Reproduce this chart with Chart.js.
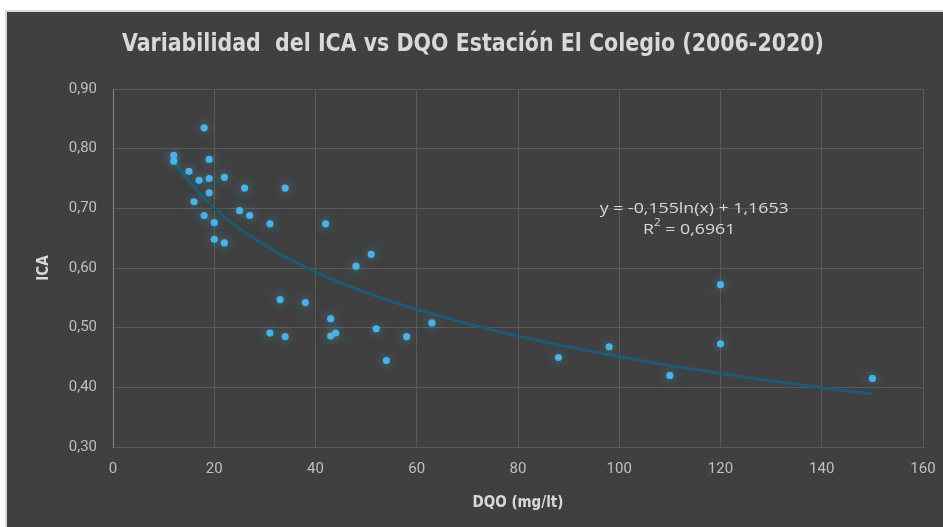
<!DOCTYPE html>
<html lang="es">
<head>
<meta charset="utf-8">
<title>Variabilidad del ICA vs DQO</title>
<script src="https://cdn.jsdelivr.net/npm/chart.js@4.4.1/dist/chart.umd.min.js"></script>
<style>
    html, body { margin: 0; padding: 0; background: #ffffff; }
    #frame {
        position: absolute;
        left: 5px; top: 10px;
        width: 936px; height: 515px;
        border-left: 2px solid #d9d9d9;
        border-top: 2px solid #d9d9d9;
        background: #404040;
    }
    #icaChart { display: block; }
</style>
</head>
<body>
<div id="frame"><canvas id="icaChart" width="936" height="515"></canvas></div>
<script>
// DQO (mg/lt) and ICA per sample, El Colegio station 2006-2020
const dqo = [12, 12, 15, 16, 17, 18, 18, 19, 19, 19, 20, 20, 22, 22, 25, 26, 27, 31, 31, 33,
             34, 34, 38, 42, 43, 43, 44, 48, 51, 52, 54, 58, 63, 88, 98, 110, 120, 120, 150];
const ica = [0.789, 0.779, 0.762, 0.711, 0.747, 0.835, 0.688, 0.782, 0.750, 0.726, 0.676, 0.648,
             0.752, 0.642, 0.696, 0.734, 0.688, 0.674, 0.491, 0.547, 0.734, 0.485, 0.542, 0.674,
             0.515, 0.486, 0.491, 0.603, 0.623, 0.498, 0.445, 0.485, 0.508, 0.450, 0.468, 0.420,
             0.572, 0.473, 0.415];

// logarithmic trend line: y = a*ln(x) + b
const trendA = -0.155;
const trendB = 1.1653;
const trendR2 = 0.6961;
const trendFrom = 12;
const trendTo = 150;

const xTicks = [0, 20, 40, 60, 80, 100, 120, 140, 160];
const yTicks = [0.30, 0.40, 0.50, 0.60, 0.70, 0.80, 0.90];

const chartTitle = 'Variabilidad  del ICA vs DQO Estación El Colegio (2006-2020)';

const points = dqo.map((x, i) => ({ x: x, y: ica[i] }));

const trend = [];
for (let x = trendFrom; x <= trendTo; x += 1) {
    trend.push({ x: x, y: trendA * Math.log(x) + trendB });
}

const fmt = (v, d) => v.toFixed(d).replace('.', ',');
const narrow = '"Liberation Sans Narrow", "DejaVu Sans Condensed", Roboto, sans-serif';

// soft glow around the markers
const glowPlugin = {
    id: 'glow',
    beforeDatasetDraw(chart, args) {
        if (args.index !== 0) return;
        const ctx = chart.ctx;
        ctx.save();
        ctx.shadowColor = 'rgba(70, 180, 232, 0.6)';
        ctx.shadowBlur = 10;
    },
    afterDatasetDraw(chart, args) {
        if (args.index !== 0) return;
        chart.ctx.restore();
    }
};

// condensed bold title, squeezed to the width of the original heading
const titlePlugin = {
    id: 'narrowTitle',
    afterDraw(chart) {
        const ctx = chart.ctx;
        ctx.save();
        ctx.font = 'bold 25px ' + narrow;
        ctx.fillStyle = '#d9d9d9';
        ctx.textAlign = 'center';
        ctx.textBaseline = 'middle';
        const w = ctx.measureText(chartTitle).width;
        const sx = Math.min(1, 702 / w);
        ctx.translate(466, 32);
        ctx.scale(sx, 1);
        ctx.fillText(chartTitle, 0, 0);
        ctx.restore();
    }
};

// equation and R² label next to the trend line
const equationPlugin = {
    id: 'equation',
    afterDatasetsDraw(chart) {
        const ctx = chart.ctx;
        const xs = chart.scales.x, ys = chart.scales.y;
        const cx = xs.getPixelForValue(114.8);
        const cy = ys.getPixelForValue(0.70);
        const big = '15px "Open Sans", sans-serif';
        const small = '10px "Open Sans", sans-serif';
        const line1 = 'y = ' + fmt(trendA, 3) + 'ln(x)' + (trendB >= 0 ? ' + ' : ' - ') + fmt(Math.abs(trendB), 4);
        ctx.save();
        ctx.fillStyle = '#d9d9d9';
        ctx.textBaseline = 'middle';
        ctx.font = big;
        const sx = 189 / ctx.measureText(line1).width;
        ctx.translate(cx, cy);
        ctx.scale(sx, 1);
        ctx.textAlign = 'center';
        ctx.fillText(line1, 0, 0);

        // second line: R, superscript 2, then the value
        const rest = ' = ' + fmt(trendR2, 4);
        const wR = ctx.measureText('R').width;
        const wRest = ctx.measureText(rest).width;
        ctx.font = small;
        const w2 = ctx.measureText('2').width;
        let x = -5 / sx - (wR + w2 + wRest) / 2;
        const y = 21;
        ctx.textAlign = 'left';
        ctx.font = big;
        ctx.fillText('R', x, y);
        x += wR;
        ctx.font = small;
        ctx.fillText('2', x, y - 6);
        x += w2;
        ctx.font = big;
        ctx.fillText(rest, x, y);
        ctx.restore();
    }
};

new Chart(document.getElementById('icaChart'), {
    type: 'scatter',
    data: {
        datasets: [{
            label: 'ICA',
            data: points,
            backgroundColor: '#47b4e6',
            borderWidth: 0,
            pointRadius: 3.6,
            pointHoverRadius: 3.6,
            order: 0
        }, {
            label: 'Logarítmica (ICA)',
            data: trend,
            showLine: true,
            borderColor: '#1e5a74',
            borderWidth: 3,
            pointRadius: 0,
            tension: 0,
            order: 1
        }]
    },
    options: {
        responsive: false,
        animation: false,
        layout: { padding: { left: 28, right: 1, top: 77, bottom: 15 } },
        plugins: {
            legend: { display: false },
            tooltip: { enabled: false },
            title: { display: false }
        },
        scales: {
            x: {
                type: 'linear',
                min: 0,
                max: 160,
                afterBuildTicks: axis => { axis.ticks = xTicks.map(v => ({ value: v })); },
                afterFit: axis => { axis.paddingRight = 20; },
                ticks: {
                    color: '#bfbfbf',
                    font: { family: 'Roboto, sans-serif', size: 15 },
                    padding: 13,
                    callback: v => String(v)
                },
                grid: { color: '#595959', drawTicks: false },
                border: { color: '#595959' },
                title: {
                    display: true,
                    text: 'DQO (mg/lt)',
                    color: '#d9d9d9',
                    font: { family: narrow, size: 15, weight: 'bold' },
                    padding: { top: 3, bottom: 0 }
                }
            },
            y: {
                type: 'linear',
                min: 0.3,
                max: 0.9,
                afterBuildTicks: axis => { axis.ticks = yTicks.map(v => ({ value: v })); },
                afterFit: axis => { axis.width = 78; },
                ticks: {
                    color: '#bfbfbf',
                    font: { family: 'Roboto, sans-serif', size: 15 },
                    padding: 16,
                    callback: v => fmt(v, 2)
                },
                grid: { color: '#595959', drawTicks: false },
                border: { color: '#858585' },
                title: {
                    display: true,
                    text: 'ICA',
                    color: '#d9d9d9',
                    font: { family: narrow, size: 15, weight: 'bold' },
                    padding: { top: 0, bottom: 4 }
                }
            }
        }
    },
    plugins: [glowPlugin, equationPlugin, titlePlugin]
});
</script>
</body>
</html>
